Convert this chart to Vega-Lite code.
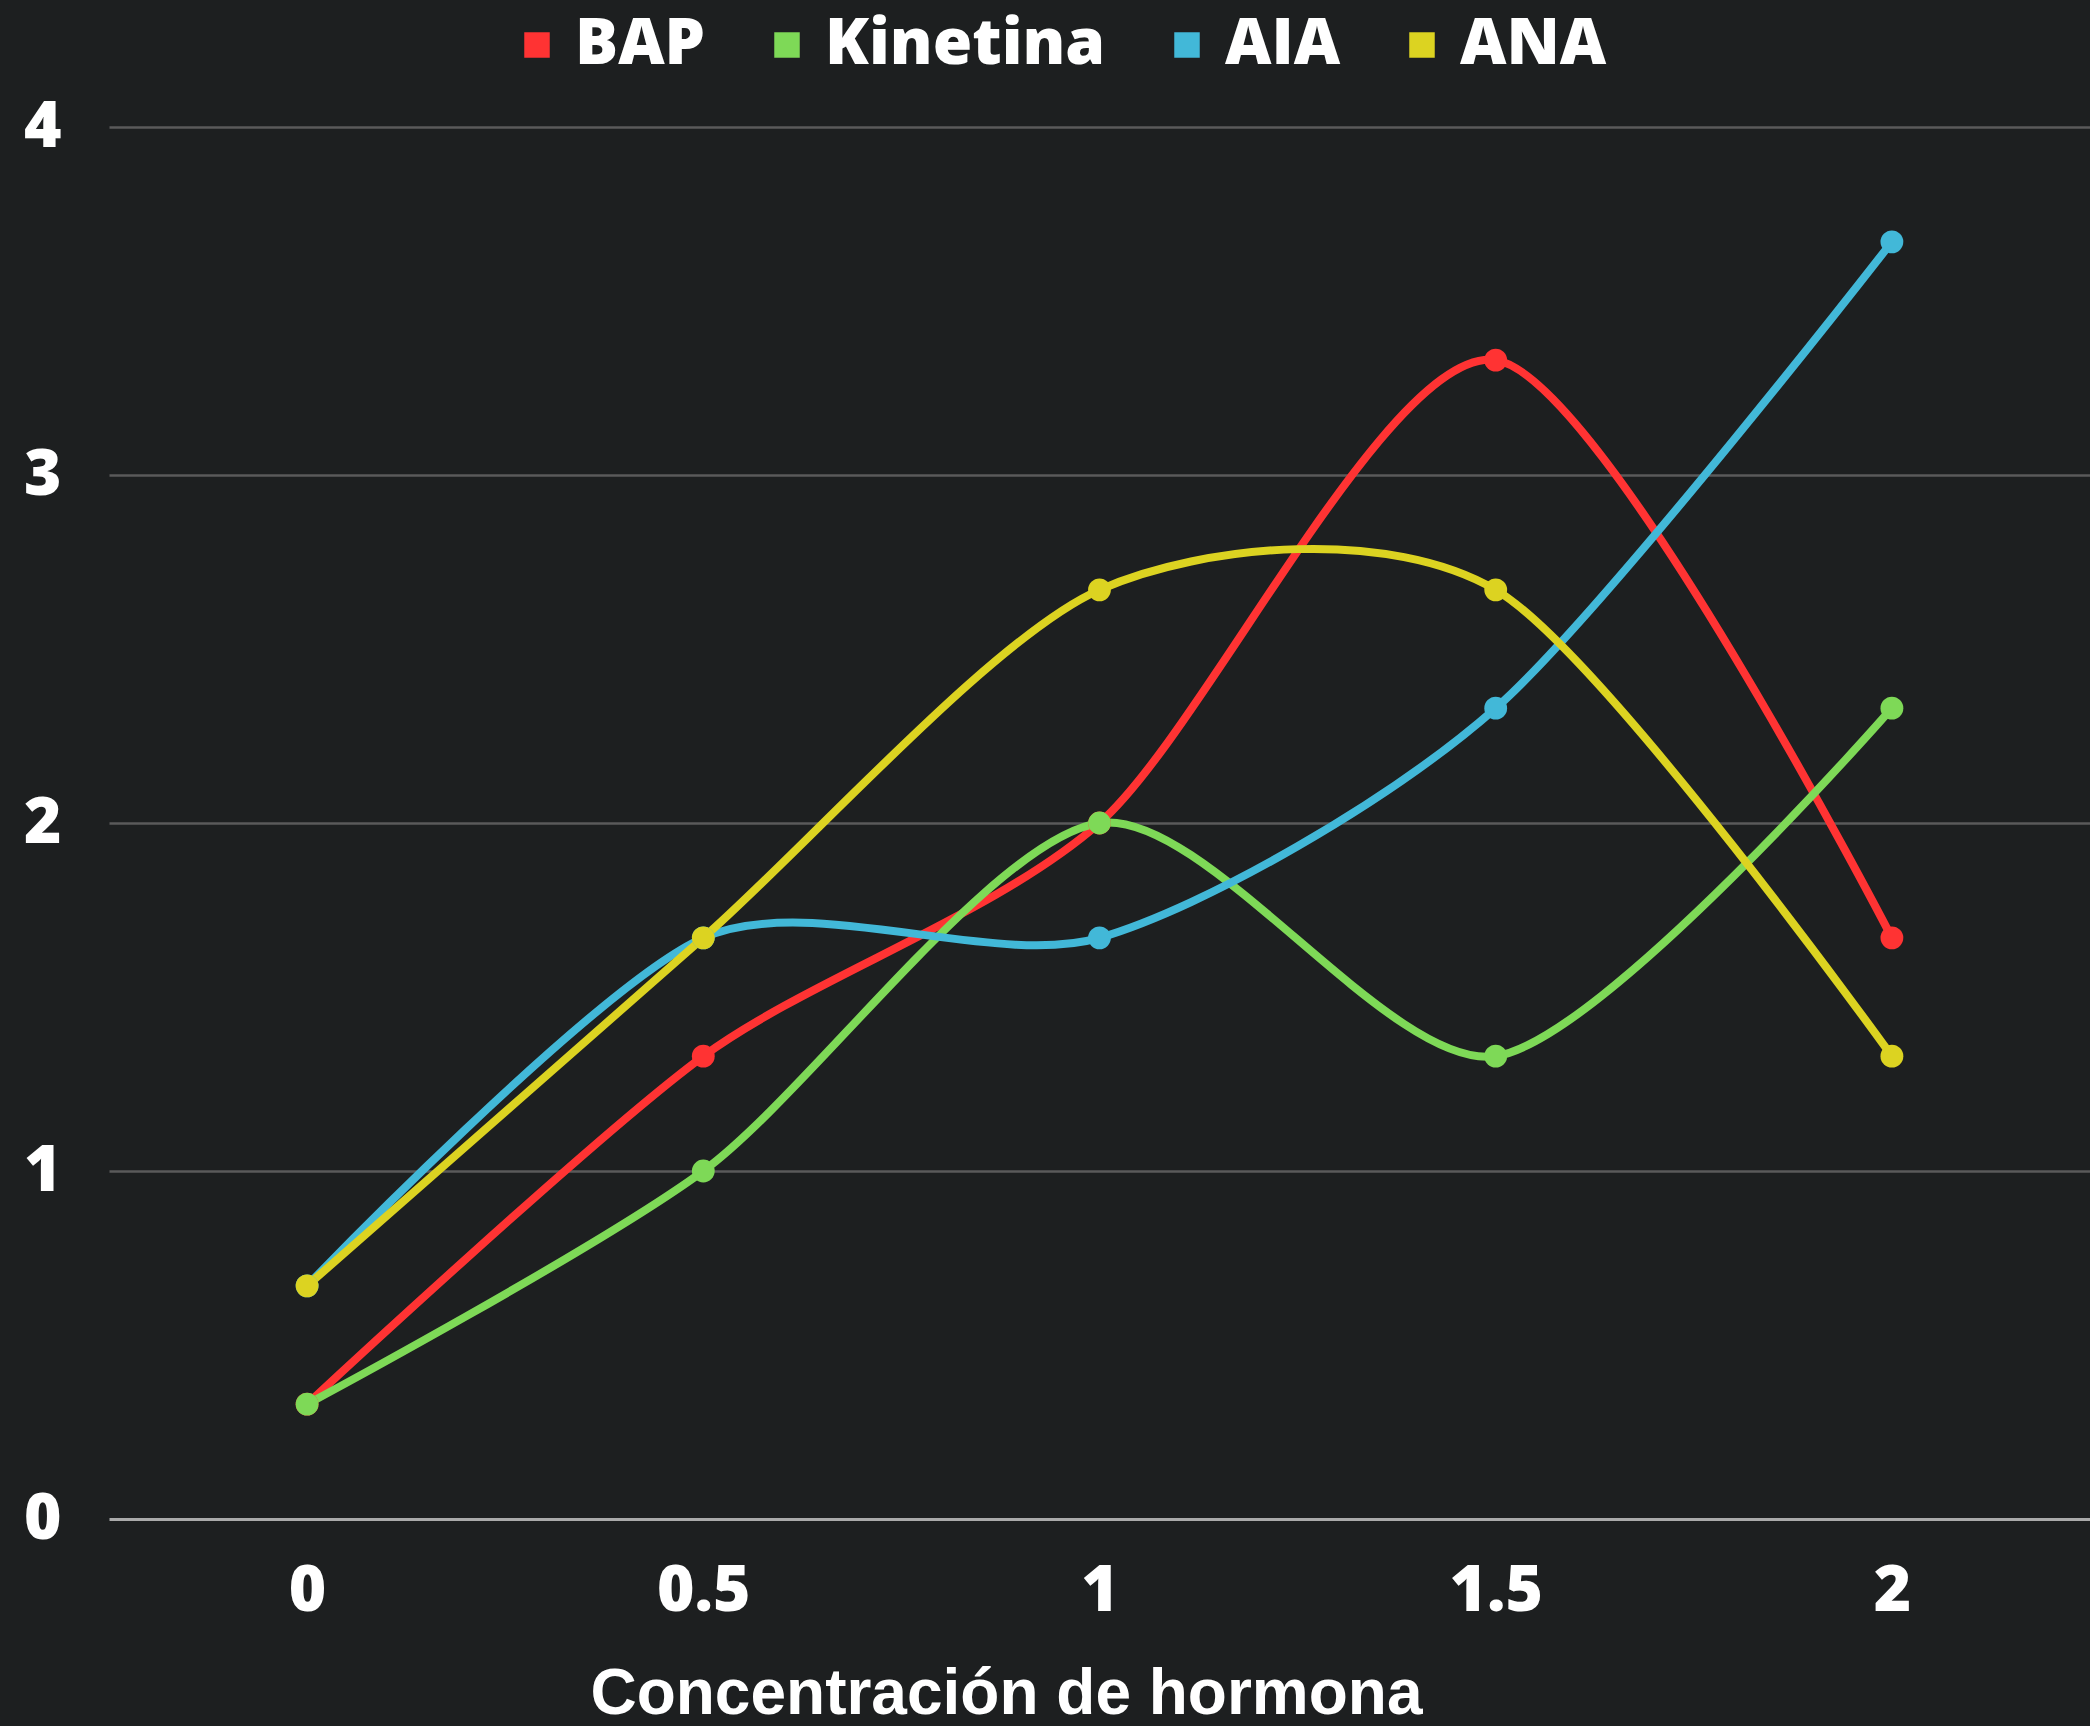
{
  "$schema": "https://vega.github.io/schema/vega-lite/v6.json",
  "autosize": "none",
  "width": 1981,
  "height": 1392,
  "padding": {"left": 109, "top": 127, "right": 0, "bottom": 207},
  "background": "#1d1f20",
  "config": {
    "view": {"stroke": null},
    "font": "Open Sans"
  },
  "data": {
    "values": [
      {"hormona": "BAP", "concentracion": "0", "valor": 0.33},
      {"hormona": "BAP", "concentracion": "0.5", "valor": 1.33},
      {"hormona": "BAP", "concentracion": "1", "valor": 2.0},
      {"hormona": "BAP", "concentracion": "1.5", "valor": 3.33},
      {"hormona": "BAP", "concentracion": "2", "valor": 1.67},
      {"hormona": "Kinetina", "concentracion": "0", "valor": 0.33},
      {"hormona": "Kinetina", "concentracion": "0.5", "valor": 1.0},
      {"hormona": "Kinetina", "concentracion": "1", "valor": 2.0},
      {"hormona": "Kinetina", "concentracion": "1.5", "valor": 1.33},
      {"hormona": "Kinetina", "concentracion": "2", "valor": 2.33},
      {"hormona": "AIA", "concentracion": "0", "valor": 0.67},
      {"hormona": "AIA", "concentracion": "0.5", "valor": 1.67},
      {"hormona": "AIA", "concentracion": "1", "valor": 1.67},
      {"hormona": "AIA", "concentracion": "1.5", "valor": 2.33},
      {"hormona": "AIA", "concentracion": "2", "valor": 3.67},
      {"hormona": "ANA", "concentracion": "0", "valor": 0.67},
      {"hormona": "ANA", "concentracion": "0.5", "valor": 1.67},
      {"hormona": "ANA", "concentracion": "1", "valor": 2.67},
      {"hormona": "ANA", "concentracion": "1.5", "valor": 2.67},
      {"hormona": "ANA", "concentracion": "2", "valor": 1.33}
    ]
  },
  "encoding": {
    "x": {
      "field": "concentracion",
      "type": "ordinal",
      "sort": ["0", "0.5", "1", "1.5", "2"],
      "axis": {
        "labelAngle": 0,
        "ticks": false,
        "domain": false,
        "labelFont": "Open Sans",
        "labelFontWeight": 800,
        "labelFontSize": 64,
        "labelColor": "#ffffff",
        "labelPadding": 40,
        "title": "Concentración de hormona",
        "titleFont": "Liberation Sans",
        "titleFontWeight": "bold",
        "titleFontSize": 64,
        "titleColor": "#ffffff",
        "titleBaseline": "alphabetic",
        "titleAlign": "center",
        "titleX": 897,
        "titleY": 194
      }
    },
    "y": {
      "field": "valor",
      "type": "quantitative",
      "scale": {"domain": [0, 4], "nice": false},
      "axis": {
        "values": [0, 1, 2, 3, 4],
        "title": null,
        "ticks": false,
        "domain": false,
        "grid": true,
        "gridColor": {"condition": {"test": "datum.value === 0", "value": "#aaaaaa"}, "value": "#5a5a5a"},
        "gridWidth": {"condition": {"test": "datum.value === 0", "value": 3}, "value": 2.5},
        "labelFont": "Open Sans",
        "labelFontWeight": 800,
        "labelFontSize": 64,
        "labelColor": "#ffffff",
        "labelPadding": 48
      }
    },
    "color": {
      "field": "hormona",
      "type": "nominal",
      "scale": {
        "domain": ["BAP", "Kinetina", "AIA", "ANA"],
        "range": ["#ff3333", "#7ed957", "#42b8d8", "#dcd321"]
      },
      "legend": {
        "title": null,
        "orient": "none",
        "direction": "horizontal",
        "columns": 4,
        "legendX": 396,
        "legendY": -114,
        "padding": 0,
        "columnPadding": 49,
        "symbolType": "square",
        "symbolSize": 650,
        "symbolStrokeWidth": 0,
        "symbolOpacity": 1,
        "labelOffset": 6,
        "labelFont": "Open Sans",
        "labelFontWeight": 800,
        "labelFontSize": 64,
        "labelColor": "#ffffff",
        "labelLimit": 0
      }
    }
  },
  "layer": [
    {
      "mark": {"type": "line", "interpolate": "cardinal", "tension": 0.2, "strokeWidth": 8}
    },
    {
      "mark": {"type": "point", "filled": true, "size": 520, "opacity": 1}
    }
  ]
}
